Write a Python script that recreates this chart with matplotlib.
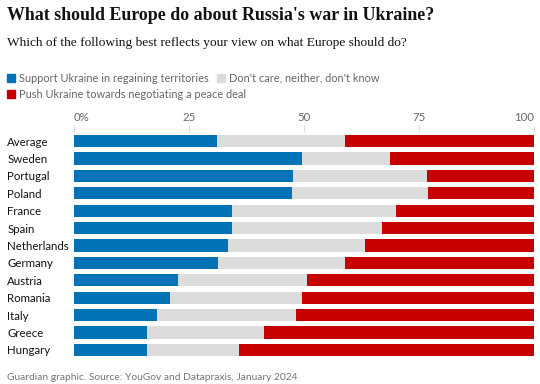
import matplotlib
matplotlib.use("Agg")
import matplotlib.pyplot as plt
import numpy as np

# survey shares, percent
countries = ["Average", "Sweden", "Portugal", "Poland", "France", "Spain",
             "Netherlands", "Germany", "Austria", "Romania", "Italy",
             "Greece", "Hungary"]
support = [31.0, 49.6, 47.5, 47.4, 34.4, 34.3, 33.5, 31.4, 22.6, 20.9, 18.0, 15.9, 15.8]
neutral = [27.9, 19.1, 29.2, 29.6, 35.6, 32.6, 29.8, 27.6, 28.0, 28.7, 30.3, 25.3, 20.1]
push = [100 - s - n for s, n in zip(support, neutral)]

series_names = ["Support Ukraine in regaining territories",
                "Don't care, neither, don't know",
                "Push Ukraine towards negotiating a peace deal"]
colors = ["#0072b5", "#dcdcdc", "#c70000"]
xticks = [0, 25, 50, 75, 100]
xticklabels = ["0%", "25", "50", "75", "100"]

W, H = 540, 384
fig = plt.figure(figsize=(W / 100, H / 100), dpi=100)

sans = ["Lato", "DejaVu Sans"]
grey_txt = "#666666"

# headline + standfirst
fig.text(7 / W, 1 - 16 / H, "What should Europe do about Russia's war in Ukraine?",
         fontsize=12.9, fontweight="bold", family="Liberation Serif", va="center", color="#121212")
fig.text(7 / W, 1 - 43 / H, "Which of the following best reflects your view on what Europe should do?",
         fontsize=9.6, family="Liberation Serif", va="center", color="#121212")

# legend (manual, two rows)
legend_pos = [(7, 78), (217, 78), (7, 94)]
for (lx, ly), name, c in zip(legend_pos, series_names, colors):
    fig.patches.append(plt.Rectangle((lx / W, 1 - (ly + 4) / H), 8 / W, 8 / H,
                                     transform=fig.transFigure, color=c))
    fig.text((lx + 12) / W, 1 - ly / H, name, fontsize=7.9, family=sans,
             va="center", color=grey_txt)

ax = fig.add_axes([74 / W, 1 - 358.7 / H, 460 / W, 226.4 / H])
y = np.arange(len(countries))
h = 0.7
ax.barh(y, support, height=h, color=colors[0], zorder=2)
ax.barh(y, neutral, left=support, height=h, color=colors[1], zorder=2)
ax.barh(y, push, left=np.array(support) + np.array(neutral), height=h, color=colors[2], zorder=2)

ax.set_xlim(0, 100)
ax.set_ylim(len(countries) - 0.5, -0.5)
for s in ax.spines.values():
    s.set_visible(False)

ax.xaxis.tick_top()
ax.set_xticks(xticks)
ax.set_xticklabels(xticklabels, family=sans, fontsize=8.2, color=grey_txt)
tl = ax.get_xticklabels()
tl[0].set_ha("left")
tl[-1].set_ha("right")
ax.tick_params(axis="x", length=5, color="#dcdcdc", pad=2)

ax.set_yticks(y)
ax.set_yticklabels(countries, family=sans, fontsize=8.3, color="#121212", ha="left")
ax.tick_params(axis="y", length=0, pad=48)

fig.text(7 / W, 1 - 377 / H, "Guardian graphic. Source: YouGov and Datapraxis, January 2024",
         fontsize=7.4, family=sans, va="center", color="#767676")

fig.savefig("out.png", dpi=100)
